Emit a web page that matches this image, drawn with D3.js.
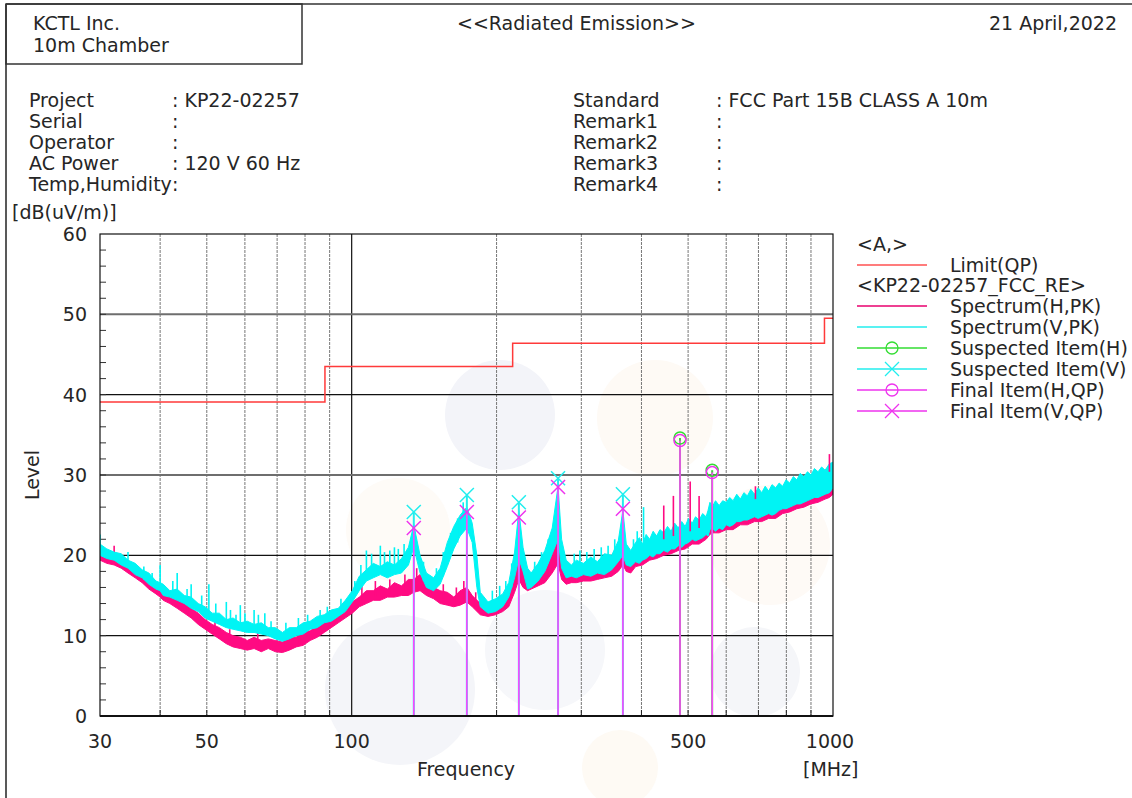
<!DOCTYPE html>
<meta charset="utf-8">
<style>
 body { margin: 0; background: #fff; }
 text { font-family: "DejaVu Sans", sans-serif; font-size: 19px; fill: #262626; }
</style>
<body>
<script src="https://d3js.org/d3.v7.min.js"></script>
<script>

// limit line (QP), step function
var limitFreq  = [30, 88, 88, 216, 216, 960, 960, 1000];
var limitLevel = [39.1, 39.1, 43.5, 43.5, 46.4, 46.4, 49.5, 49.5];

// spectrum traces: [MHz, low edge dB, high edge dB]
var specH = [[30.0,19.4,20.8],[31.0,19.0,20.2],[32.1,18.8,19.8],[33.2,18.4,19.6],[34.3,17.8,19.0],[35.5,17.2,18.2],
 [36.7,16.6,17.8],[37.9,15.8,17.0],[39.2,15.2,16.4],[40.0,14.8,15.8],[40.6,14.4,15.8],[41.9,14.0,15.0],[43.4,13.4,14.6],
 [44.9,12.8,14.0],[46.4,12.2,13.4],[48.0,11.4,12.8],[49.6,10.8,12.0],[51.3,10.2,11.4],[53.1,9.6,11.0],[54.9,9.0,10.4],
 [56.7,8.6,10.0],[58.7,8.4,9.8],[60.7,8.2,9.4],[62.7,8.4,9.8],[64.9,8.0,9.4],[67.1,8.4,9.6],[69.4,8.0,9.4],[71.8,7.9,9.2],
 [74.2,8.2,9.8],[76.7,8.6,9.8],[79.3,8.8,10.4],[82.0,9.4,10.6],[84.8,9.8,11.2],[87.7,10.4,11.6],[90.7,11.0,12.4],
 [93.8,11.6,12.8],[97.0,12.2,13.6],[100.3,12.8,14.2],[103.7,13.6,14.8],[107.3,14.0,15.6],[110.9,14.4,15.6],[114.7,14.4,16.2],
 [118.6,14.8,15.8],[122.7,14.8,16.6],[126.9,15.0,16.2],[131.2,15.0,17.0],[134.6,15.4,17.0],[138.7,15.6,17.6],[143.0,15.0,16.6],
 [148.0,14.6,16.0],[152.7,14.0,15.6],[158.0,13.8,15.4],[163.0,13.6,14.8],[168.0,13.8,15.6],[173.5,14.2,16.0],[178.0,13.6,15.0],
 [185.0,12.6,14.0],[192.0,12.4,13.4],[199.0,12.6,13.8],[206.0,13.0,14.6],[212.0,13.6,15.2],[218.0,15.4,17.6],[222.5,17.0,20.8],
 [227.0,16.0,17.8],[232.0,15.6,17.2],[236.0,15.8,17.0],[244.0,16.2,17.8],[252.0,16.6,18.4],[261.0,17.8,20.0],[268.4,19.0,24.6],
 [273.0,17.0,19.0],[279.0,16.4,17.6],[286.0,16.6,17.8],[293.0,16.6,17.6],[303.0,16.8,18.0],[314.0,16.8,18.2],[324.0,17.0,18.2],
 [335.0,17.2,18.6],[347.0,17.4,18.8],[358.0,18.0,19.8],[366.0,18.8,20.8],[372.0,18.0,19.6],[380.0,17.8,19.4],[389.0,18.6,20.6],
 [402.0,18.8,20.6],[416.0,19.4,21.2],[430.0,19.6,21.4],[445.0,20.0,22.0],[461.0,20.2,22.2],[477.0,20.6,22.6],[493.0,20.8,22.8],
 [510.0,21.4,23.2],[527.0,21.4,23.6],[545.0,22.0,24.0],[555.0,22.6,25.4],[561.0,22.8,25.2],[580.0,22.8,25.2],[600.0,23.2,25.6],
 [620.0,23.2,26.0],[642.0,23.8,26.2],[664.0,23.8,26.6],[687.0,24.2,26.8],[711.0,24.2,27.0],[735.0,24.6,27.2],[760.0,24.6,27.6],
 [786.0,25.2,27.8],[813.0,25.4,28.2],[841.0,25.8,28.6],[870.0,26.0,29.0],[900.0,26.4,29.2],[931.0,26.6,29.6],[963.0,27.0,30.0],
 [983.0,27.2,30.6],[1000.0,27.6,30.8]];

var specV = [[30.0,20.0,21.4],[31.0,19.6,20.8],[32.1,19.4,20.4],[33.2,18.8,20.2],[34.3,18.4,19.4],[35.5,17.6,19.0],
 [36.7,17.2,18.2],[37.9,16.4,17.8],[39.2,15.8,16.8],[40.0,15.6,16.6],[40.6,15.0,16.4],[41.9,14.8,15.6],[43.4,14.4,15.8],
 [44.9,14.0,15.0],[46.4,13.4,14.8],[48.0,13.0,14.0],[49.6,12.2,13.6],[51.3,11.8,12.8],[53.1,11.4,12.8],[54.9,11.0,12.0],
 [56.7,10.8,12.2],[58.7,10.6,11.6],[60.7,10.4,11.8],[62.7,10.4,11.4],[64.9,10.2,11.6],[67.1,10.0,11.0],[69.4,9.6,11.0],
 [71.8,9.3,10.4],[74.2,9.6,11.0],[76.7,10.0,11.0],[79.3,10.2,11.6],[82.0,10.8,11.8],[84.8,11.0,12.4],[87.7,11.6,12.6],
 [90.7,11.8,13.2],[93.8,12.4,13.4],[97.0,13.0,14.4],[100.3,14.2,15.6],[103.7,15.6,17.4],[107.3,16.8,18.2],[110.9,17.2,19.0],
 [114.7,17.6,18.6],[118.6,17.2,19.2],[122.7,17.6,18.8],[126.9,17.8,19.6],[131.2,18.8,21.0],[134.6,21.0,23.8],[138.7,17.8,20.0],
 [143.0,16.0,17.8],[148.0,15.6,17.2],[152.7,16.4,18.4],[158.0,18.6,21.6],[163.0,20.8,23.6],[168.0,22.4,25.0],[173.5,23.4,26.0],
 [178.0,21.6,24.0],[182.0,16.0,20.0],[185.0,13.6,15.4],[192.0,12.8,14.2],[199.0,13.0,14.6],[206.0,13.6,15.2],[212.0,14.8,16.6],
 [218.0,17.2,20.4],[222.5,19.6,25.6],[227.0,18.0,21.0],[232.0,15.8,18.4],[236.0,16.0,17.8],[244.0,16.8,19.0],[252.0,18.0,20.6],
 [261.0,20.2,23.4],[268.4,22.0,28.6],[273.0,18.4,22.0],[279.0,17.2,19.4],[286.0,17.4,18.8],[293.0,17.2,19.4],[303.0,17.6,19.0],
 [314.0,17.4,19.8],[324.0,17.8,19.2],[335.0,17.6,20.2],[347.0,18.2,20.0],[358.0,19.2,21.8],[366.0,20.0,25.6],[372.0,18.8,21.4],
 [380.0,18.6,20.6],[389.0,19.2,21.6],[396.0,19.0,22.2],[402.0,19.4,21.4],[409.0,19.6,22.6],[416.0,20.0,22.0],[423.0,19.8,23.0],
 [430.0,20.2,22.4],[437.0,20.2,23.2],[445.0,20.6,22.8],[453.0,20.4,23.6],[461.0,20.8,23.0],[469.0,20.8,24.0],[477.0,21.2,23.4],
 [485.0,21.0,24.2],[493.0,21.4,23.6],[501.0,21.6,24.6],[510.0,22.0,24.0],[518.0,21.8,24.8],[527.0,22.0,24.4],[536.0,22.2,25.2],
 [545.0,22.6,24.8],[550.0,22.4,25.6],[555.0,23.2,26.6],[561.0,23.4,26.0],[570.0,23.0,26.8],[580.0,23.4,26.2],[590.0,23.2,26.8],
 [600.0,23.8,26.6],[610.0,23.6,27.2],[620.0,23.8,26.8],[631.0,24.2,27.6],[642.0,24.2,27.0],[653.0,24.4,27.8],[664.0,24.4,27.4],
 [675.0,24.6,28.2],[687.0,24.8,27.6],[699.0,24.6,28.4],[711.0,24.8,27.8],[723.0,25.0,28.6],[735.0,25.2,28.0],[747.0,25.0,28.8],
 [760.0,25.2,28.4],[773.0,25.6,29.0],[786.0,25.8,28.6],[799.0,25.8,29.4],[813.0,26.0,29.0],[827.0,26.2,29.8],[841.0,26.4,29.4],
 [855.0,26.4,30.2],[870.0,26.6,29.8],[885.0,26.8,30.4],[900.0,27.0,30.0],[915.0,27.2,30.8],[931.0,27.2,30.4],[947.0,27.4,31.0],
 [963.0,27.6,30.6],[983.0,27.8,31.4],[1000.0,28.4,31.6]];

// single-sample spikes on the traces: [MHz, from dB, to dB]
var spikesH = [[32.1,19.6,21.2],[36.0,17.2,18.6],[45.6,12.8,14.6],[52.0,10.6,12.0],[55.8,9.4,10.8],[63.8,8.8,10.4],
 [72.9,8.6,10.2],[78.0,9.0,10.8],[83.0,9.8,11.6],[105.0,14.4,16.2],[112.0,15.0,16.8],[120.0,15.2,17.0],[129.0,15.6,17.6],
 [136.5,16.0,18.4],[141.0,15.6,17.8],[146.0,15.0,17.0],[155.0,14.6,16.4],[165.0,14.2,16.0],[171.0,14.6,16.8],[181.0,13.4,15.4],
 [196.0,12.8,14.4],[209.0,13.8,15.6],[220.0,16.8,19.6],[230.0,16.4,18.2],[240.0,16.4,18.6],[248.0,16.8,19.0],[256.0,17.4,19.4],
 [265.0,18.6,21.4],[445,22.0,26.2],[466,22.4,27.4],[505,23.0,29.2],[527,23.4,27.4],[690,27.0,28.6],[983,30.4,32.6]];
var spikesV = [[30.0,21.0,22.6],[34.3,18.8,20.4],[37.0,17.0,18.6],[38.5,16.2,17.8],[40.0,16.4,18.8],[42.5,15.0,16.8],
 [43.4,15.6,17.8],[45.5,14.2,15.8],[46.4,14.6,16.4],[48.8,12.8,15.0],[50.5,13.0,16.4],[52.2,11.8,14.0],[54.9,11.8,14.2],
 [56.0,11.0,13.2],[57.5,11.0,12.6],[58.7,11.4,13.8],[60.0,10.6,12.8],[62.7,11.2,13.2],[64.0,10.4,12.6],[66.0,10.8,12.8],
 [68.0,10.0,11.8],[73.0,9.8,11.6],[77.5,10.4,12.2],[81.0,10.8,12.6],[86.0,11.4,13.2],[89.0,11.8,13.6],[95.0,12.8,14.6],
 [101.5,14.8,16.8],[104.5,16.2,18.8],[107.3,18.0,20.6],[110.0,17.4,20.2],[114.7,18.4,21.2],[117.0,17.6,20.4],[120.0,17.8,20.6],
 [122.7,18.6,21.0],[125.0,18.0,20.8],[128.5,18.6,21.4],[141.0,16.8,19.2],[150.0,16.0,18.4],[155.0,17.4,20.4],[160.5,20.0,22.8],
 [166.0,21.6,24.6],[170.5,23.0,26.6],[196.0,13.8,15.6],[203.0,14.2,16.2],[209.0,14.6,16.8],[215.0,16.0,19.0],[240.0,16.6,19.2],
 [248.0,17.6,20.4],[256.0,19.0,22.0],[264.0,21.2,24.6],[290.0,18.0,20.2],[298.0,18.2,20.6],[308.0,18.0,20.4],[319.0,18.2,20.8],
 [330.0,18.4,21.0],[341.0,18.4,21.2],[352.0,19.0,22.0],[385.0,19.6,22.0],[392.0,20.0,23.0],[404,21.6,26.0]];

// markers: [MHz, dB]
var suspectedH = [[481, 34.6], [561, 30.6]];
var suspectedV = [[134.6, 25.4], [173.5, 27.5], [222.5, 26.6], [268.4, 29.6], [366, 27.6]];
var finalH     = [[481, 34.3], [561, 30.3]];
var finalV     = [[134.6, 23.4], [173.5, 25.4], [222.5, 24.7], [268.4, 28.5], [366, 25.8]];

var xTickLabels = [30, 50, 100, 500, 1000];
var xGrid = [40, 50, 60, 70, 80, 90, 200, 300, 400, 500, 600, 700, 800, 900];
var yMajor = [10, 20, 30, 40, 50];

var width = 1132, height = 798;
var plotL = 100, plotR = 833, plotT = 234, plotB = 716;

var svg = d3.select("body").append("svg")
  .attr("width", width).attr("height", height);

svg.append("rect").attr("width", width).attr("height", height).attr("fill", "#fff");

var x = d3.scaleLog().domain([30, 1000]).range([plotL, plotR]);
var y = d3.scaleLinear().domain([0, 60]).range([plotB, plotT]);

// faint watermark blobs
var blobs = [[500,415,55,"#f3f4f9"],[655,418,58,"#fefaf5"],[398,530,52,"#fefbf7"],[400,690,75,"#f4f5f9"],
             [545,650,60,"#f6f7fa"],[770,545,60,"#fefaf6"],[755,672,45,"#f5f6f9"],[620,768,38,"#fefaf4"]];
svg.selectAll(".blob").data(blobs).enter().append("circle")
  .attr("cx", d => d[0]).attr("cy", d => d[1]).attr("r", d => d[2]).attr("fill", d => d[3]);

// page frame and header box
svg.append("line").attr("x1", 6).attr("x2", width).attr("y1", 4).attr("y2", 4)
  .attr("stroke", "#666").attr("stroke-width", 2);
svg.append("line").attr("x1", 6).attr("x2", 6).attr("y1", 4).attr("y2", height)
  .attr("stroke", "#222").attr("stroke-width", 1.5);
svg.append("rect").attr("x", 6).attr("y", 4).attr("width", 296).attr("height", 60)
  .attr("fill", "none").attr("stroke", "#333").attr("stroke-width", 1.5);

svg.append("text").attr("x", 33).attr("y", 30).text("KCTL Inc.");
svg.append("text").attr("x", 33).attr("y", 52).text("10m Chamber");
svg.append("text").attr("x", 457).attr("y", 30).text("<<Radiated Emission>>");
svg.append("text").attr("x", 1117).attr("y", 30).attr("text-anchor", "end").text("21 April,2022");

var infoLeft = [["Project", ": KP22-02257"], ["Serial", ":"], ["Operator", ":"], ["AC Power", ": 120 V 60 Hz"], ["Temp,Humidity", ":"]];
var infoRight = [["Standard", ": FCC Part 15B CLASS A 10m"], ["Remark1", ":"], ["Remark2", ":"], ["Remark3", ":"], ["Remark4", ":"]];
infoLeft.forEach(function (d, i) {
  svg.append("text").attr("x", 29).attr("y", 107 + i * 21).text(d[0]);
  svg.append("text").attr("x", 172).attr("y", 107 + i * 21).text(d[1]);
});
infoRight.forEach(function (d, i) {
  svg.append("text").attr("x", 573).attr("y", 107 + i * 21).text(d[0]);
  svg.append("text").attr("x", 716).attr("y", 107 + i * 21).text(d[1]);
});

svg.append("text").attr("x", 12).attr("y", 219).text("[dB(uV/m)]");

// grid
var g = svg.append("g");
g.selectAll(".vg").data(xGrid).enter().append("line")
  .attr("x1", d => x(d)).attr("x2", d => x(d)).attr("y1", plotT).attr("y2", plotB)
  .attr("stroke", "#777").attr("stroke-width", 1).attr("stroke-dasharray", "3,1");
g.selectAll(".vt").data(xGrid).enter().append("line")
  .attr("x1", d => x(d)).attr("x2", d => x(d)).attr("y1", plotB - 6).attr("y2", plotB)
  .attr("stroke", "#222").attr("stroke-width", 1);
g.append("line").attr("x1", x(100)).attr("x2", x(100)).attr("y1", plotT).attr("y2", plotB)
  .attr("stroke", "#111").attr("stroke-width", 1.2);
g.selectAll(".hg").data(yMajor).enter().append("line")
  .attr("x1", plotL).attr("x2", plotR).attr("y1", d => y(d)).attr("y2", d => y(d))
  .attr("stroke", d => (d === 30 || d === 50) ? "#6e6e6e" : "#111")
  .attr("stroke-width", d => (d === 30 || d === 50) ? 2 : 1.2);
g.selectAll(".ym").data(d3.range(2, 60, 2)).enter().append("line")
  .attr("x1", plotL).attr("x2", plotL + 6).attr("y1", d => y(d)).attr("y2", d => y(d))
  .attr("stroke", "#333").attr("stroke-width", 1);

// y tick labels
svg.selectAll(".yl").data(d3.range(0, 61, 10)).enter().append("text")
  .attr("x", 87).attr("y", d => y(d) + 7).attr("text-anchor", "end").text(d => d);
svg.append("text").attr("transform", "translate(39,475) rotate(-90)")
  .attr("text-anchor", "middle").text("Level");

// x tick labels
svg.selectAll(".xl").data(xTickLabels).enter().append("text")
  .attr("x", d => x(d) - (d === 1000 ? 3 : 0)).attr("y", 748)
  .attr("text-anchor", "middle").text(d => d);
svg.append("text").attr("x", 466).attr("y", 776).attr("text-anchor", "middle").text("Frequency");
svg.append("text").attr("x", 803).attr("y", 776).text("[MHz]");

// clip
svg.append("clipPath").attr("id", "plotclip").append("rect")
  .attr("x", plotL).attr("y", plotT).attr("width", plotR - plotL).attr("height", plotB - plotT);
var plot = svg.append("g").attr("clip-path", "url(#plotclip)");

// limit
plot.append("path")
  .datum(d3.zip(limitFreq, limitLevel))
  .attr("fill", "none").attr("stroke", "#ff3a3a").attr("stroke-width", 1.5)
  .attr("d", d3.line().x(d => x(d[0])).y(d => y(d[1])));

// spectra as min/max bands plus their spikes
function band(data, spikes, color) {
  plot.append("path").datum(data)
    .attr("fill", color).attr("stroke", color).attr("stroke-width", 1).attr("stroke-linejoin", "miter")
    .attr("d", d3.area().x(d => x(d[0])).y0(d => y(d[1])).y1(d => y(d[2])));
  plot.selectAll(null).data(spikes).enter().append("line")
    .attr("x1", d => x(d[0])).attr("x2", d => x(d[0])).attr("y1", d => y(d[1])).attr("y2", d => y(d[2]))
    .attr("stroke", color).attr("stroke-width", 1.6);
}
band(specH, spikesH.filter(d => d[0] < 300), "#ff0a82");
band(specV, spikesV, "#00f4f4");
band([], spikesH.filter(d => d[0] >= 300), "#ff0a82");

// marker stems
function stems(data, color, w) {
  plot.selectAll(null).data(data).enter().append("line")
    .attr("x1", d => x(d[0])).attr("x2", d => x(d[0])).attr("y1", d => y(d[1])).attr("y2", plotB)
    .attr("stroke", color).attr("stroke-width", w);
}
stems(suspectedV, "#22eeee", 2);
stems(suspectedH, "#44cc44", 2);
stems(finalV, "#ff44ff", 1.6);
stems(finalH, "#ff44ff", 1.6);

function crosses(data, color) {
  plot.selectAll(null).data(data).enter().append("path")
    .attr("d", d => { var cx = x(d[0]), cy = y(d[1]);
      return "M" + (cx - 7) + "," + (cy - 7) + "L" + (cx + 7) + "," + (cy + 7) +
             "M" + (cx - 7) + "," + (cy + 7) + "L" + (cx + 7) + "," + (cy - 7); })
    .attr("stroke", color).attr("stroke-width", 1.5).attr("fill", "none");
}
function rings(data, color) {
  plot.selectAll(null).data(data).enter().append("circle")
    .attr("cx", d => x(d[0])).attr("cy", d => y(d[1])).attr("r", 6)
    .attr("stroke", color).attr("stroke-width", 1.5).attr("fill", "none");
}
crosses(suspectedV, "#22eeee");
rings(suspectedH, "#33dd33");
crosses(finalV, "#ee33ee");
rings(finalH, "#ee33ee");

// plot frame
svg.append("rect").attr("x", plotL).attr("y", plotT).attr("width", plotR - plotL).attr("height", plotB - plotT)
  .attr("fill", "none").attr("stroke", "#111").attr("stroke-width", 1.2);
svg.append("line").attr("x1", plotL).attr("x2", plotR).attr("y1", plotB).attr("y2", plotB)
  .attr("stroke", "#111").attr("stroke-width", 2);

// legend
var lg = svg.append("g");
lg.append("text").attr("x", 857).attr("y", 251).text("<A,>");
lg.append("text").attr("x", 857).attr("y", 292).text("<KP22-02257_FCC_RE>");
var legendItems = [
  { label: "Limit(QP)", color: "#ff5050", y: 265, mark: null },
  { label: "Spectrum(H,PK)", color: "#e8006e", y: 306, mark: null },
  { label: "Spectrum(V,PK)", color: "#22eeee", y: 327, mark: null },
  { label: "Suspected Item(H)", color: "#33dd33", y: 348, mark: "o" },
  { label: "Suspected Item(V)", color: "#22eeee", y: 369, mark: "x" },
  { label: "Final Item(H,QP)", color: "#ee33ee", y: 390, mark: "o" },
  { label: "Final Item(V,QP)", color: "#ee33ee", y: 411, mark: "x" }
];
legendItems.forEach(function (d) {
  lg.append("line").attr("x1", 857).attr("x2", 927).attr("y1", d.y).attr("y2", d.y)
    .attr("stroke", d.color).attr("stroke-width", 1.3);
  if (d.mark === "o") {
    lg.append("circle").attr("cx", 892).attr("cy", d.y).attr("r", 6)
      .attr("fill", "none").attr("stroke", d.color).attr("stroke-width", 1.3);
  } else if (d.mark === "x") {
    lg.append("path").attr("d", "M885," + (d.y - 7) + "L899," + (d.y + 7) + "M885," + (d.y + 7) + "L899," + (d.y - 7))
      .attr("fill", "none").attr("stroke", d.color).attr("stroke-width", 1.3);
  }
  lg.append("text").attr("x", 950).attr("y", d.y + 7).text(d.label);
});

</script>
</body>
